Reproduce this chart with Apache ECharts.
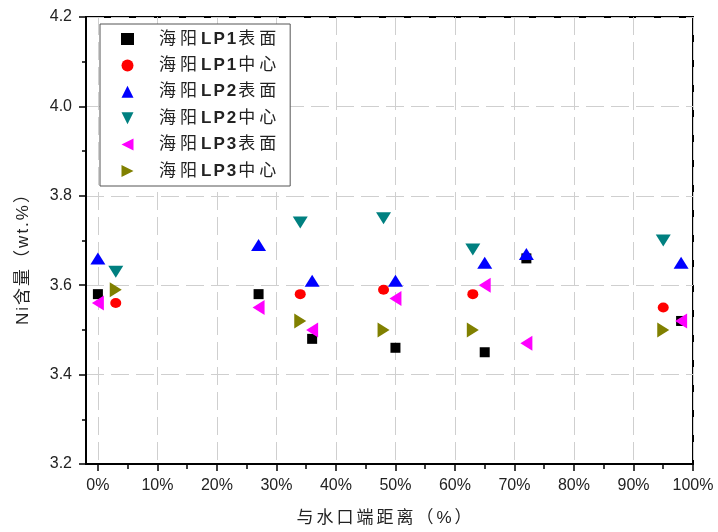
<!DOCTYPE html>
<html><head><meta charset="utf-8">
<script src="https://cdn.jsdelivr.net/npm/echarts@6/dist/echarts.min.js"></script>
<style>html,body{margin:0;padding:0;background:#fff}#c{width:718px;height:532px}</style>
</head><body><div id="c"></div>
<script>
// Data (x: distance from gate end, %; y: Ni content, wt.%)
const seriesNames = ['海阳LP1表面','海阳LP1中心','海阳LP2表面','海阳LP2中心','海阳LP3表面','海阳LP3中心'];
const xSurface = [0, 27, 36, 50, 65, 72, 98];
const xCenter = [3, 34, 48, 63, 95];
const lp1Surface = [3.58, 3.58, 3.48, 3.46, 3.45, 3.66, 3.52];
const lp1Center  = [3.56, 3.58, 3.59, 3.58, 3.55];
const lp2Surface = [3.66, 3.69, 3.61, 3.61, 3.65, 3.67, 3.65];
const lp2Center  = [3.63, 3.74, 3.75, 3.68, 3.70];
const lp3Surface = [3.56, 3.55, 3.50, 3.57, 3.60, 3.47, 3.52];
const lp3Center  = [3.59, 3.52, 3.50, 3.50, 3.50];
const xTicks = [0,10,20,30,40,50,60,70,80,90,100];
const xMinorTicks = [5,15,25,35,45,55,65,75,85,95];
const xTitle = '与水口端距离（%）';
const yTitle = 'Ni含量（wt.%）';

const pair = (xs, ys) => xs.map((x, i) => [x, ys[i]]);
const styles = [
  {symbol:'rect', size:10, rot:0, color:'#000000', icon:'rect'},
  {symbol:'circle', size:[11,10], rot:0, color:'#ff0000', icon:'circle'},
  {symbol:'triangle', size:[15,12], rot:0, color:'#0000ff', icon:'path://M0,-1L1,1L-1,1Z'},
  {symbol:'triangle', size:[15,12], rot:180, color:'#008080', icon:'path://M-1,-1L1,-1L0,1Z'},
  {symbol:'triangle', size:[15,12], rot:90, color:'#ff00ff', icon:'path://M-1,0L1,-1L1,1Z'},
  {symbol:'triangle', size:[15,12], rot:-90, color:'#808000', icon:'path://M1,0L-1,-1L-1,1Z'}
];
const datas = [
  pair(xSurface, lp1Surface), pair(xCenter, lp1Center),
  pair(xSurface, lp2Surface), pair(xCenter, lp2Center),
  pair(xSurface, lp3Surface), pair(xCenter, lp3Center)
];
const series = seriesNames.map((n, i) => ({
  name: n, type: 'scatter', data: datas[i],
  symbol: styles[i].symbol, symbolSize: styles[i].size, symbolRotate: styles[i].rot,
  itemStyle: {color: styles[i].color, opacity: 1}
}));
// spread glyphs (letter spacing via rich segments); ASCII glyphs use style 'l'
const spaced = s => Array.from(s).map(c => (/[A-Za-z0-9]/.test(c) ? '{l|' : '{s|') + c + '}').join('');

const fontLat = '"Liberation Sans", Arial, sans-serif';
const fontCJK = '"Liberation Sans", "Noto Sans CJK SC", sans-serif';
const chart = echarts.init(document.getElementById('c'));
chart.setOption({
  animation: false,
  grid: {left: 86, top: 17, right: 25, bottom: 67, show: true, borderColor: '#000', borderWidth: 2, backgroundColor: 'transparent'},
  legend: {
    orient: 'vertical', left: 100, top: 24,
    padding: [5, 10, 5, 21], itemGap: 6.4, itemWidth: 13, itemHeight: 12,
    borderColor: '#555', borderWidth: 1, backgroundColor: '#fff',
    formatter: n => spaced(n),
    textStyle: {fontSize: 17, color: '#222', fontFamily: fontCJK, lineHeight: 20, padding: [0,0,0,20],
      rich: {
        s: {fontSize: 17, color: '#222', fontFamily: fontCJK, lineHeight: 20, padding: [0, 4, 0, 0]},
        l: {fontSize: 17, color: '#222', fontFamily: fontCJK, fontWeight: 'bold', lineHeight: 20, padding: [0, 2, 0, 0]}
      }},
    data: seriesNames.map((n, i) => ({name: n, icon: styles[i].icon, itemStyle: {color: styles[i].color}}))
  },
  xAxis: [{
    type: 'value', min: -2, max: 100, position: 'bottom',
    name: spaced(xTitle), nameLocation: 'middle', nameGap: 46,
    nameTextStyle: {fontSize: 17, color: '#222', fontFamily: fontCJK, padding: [0, 10, 0, 0],
      rich: {s: {fontSize: 17, color: '#222', fontFamily: fontCJK, padding: [0, 2, 0, 1]}}},
    axisLine: {show: true, onZero: false, lineStyle: {color: '#000', width: 2}},
    axisTick: {show: true, inside: false, length: 7, customValues: xTicks, lineStyle: {color: '#000', width: 1.5}},
    axisLabel: {customValues: xTicks, formatter: v => v + '%', fontSize: 16, color: '#222', fontFamily: fontLat, margin: 14},
    splitLine: {show: true, lineStyle: {color: '#cfcfcf', width: 1, type: [18, 7]}}
  }, {
    type: 'value', min: -2, max: 100, position: 'bottom',
    axisLine: {show: false},
    axisTick: {show: true, inside: false, length: 5, customValues: xMinorTicks, lineStyle: {color: '#000', width: 1.5}},
    axisLabel: {show: false},
    splitLine: {show: false}
  }],
  yAxis: {
    type: 'value', min: 3.2, max: 4.2, interval: 0.2,
    name: spaced(yTitle), nameLocation: 'middle', nameGap: 54,
    nameTextStyle: {fontSize: 17, color: '#222', fontFamily: fontCJK, padding: [0, 28, 0, 0],
      rich: {
        s: {fontSize: 17, color: '#222', fontFamily: fontCJK, padding: [0, 2, 0, 0]},
        l: {fontSize: 17, color: '#222', fontFamily: fontCJK, padding: [0, 2, 0, 0]}
      }},
    axisLine: {show: true, onZero: false, lineStyle: {color: '#000', width: 2}},
    axisTick: {show: true, inside: false, length: 7, lineStyle: {color: '#000', width: 1.5}},
    minorTick: {show: true, splitNumber: 2, length: 4, lineStyle: {color: '#000', width: 1.5}},
    axisLabel: {formatter: v => v.toFixed(1), fontSize: 16, color: '#222', fontFamily: fontLat, margin: 14},
    splitLine: {show: true, lineStyle: {color: '#cfcfcf', width: 1, type: [18, 7]}}
  },
  series: series
});
</script>
</body></html>
